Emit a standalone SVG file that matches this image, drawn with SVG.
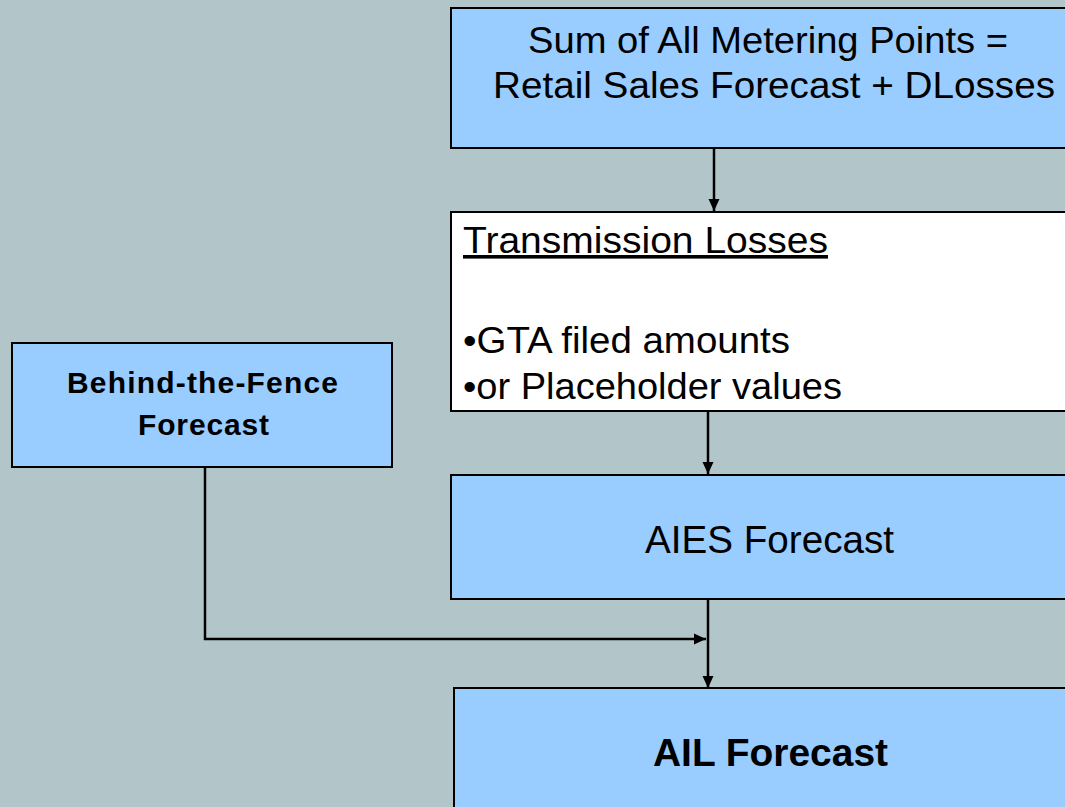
<svg xmlns="http://www.w3.org/2000/svg" width="1065" height="807" viewBox="0 0 1065 807">
  <defs>
    <marker id="arrow" viewBox="0 0 12 12" refX="12" refY="6" markerWidth="12" markerHeight="12" markerUnits="userSpaceOnUse" orient="auto">
      <path d="M0,0.5 L12,6 L0,11.5 Z" fill="#000"/>
    </marker>
    <style>
      .box { fill: #99CCFF; stroke: #000; stroke-width: 2; }
      .white { fill: #FFFFFF; stroke: #000; stroke-width: 2; }
      .t { font-family: "Liberation Sans", Arial, sans-serif; fill: #000; }
      .lg { font-size: 36px; }
      .bd { font-weight: bold; }
      .conn { fill: none; stroke: #000; stroke-width: 2.5; }
    </style>
  </defs>

  <rect width="1065" height="807" fill="#B2C6CA"/>

  <g id="node-metering">
    <rect class="box" x="451" y="8" width="630" height="140"/>
    <text class="t lg" x="528" y="53" textLength="480" lengthAdjust="spacingAndGlyphs">Sum of All Metering Points =</text>
    <text class="t lg" x="493" y="98" textLength="562" lengthAdjust="spacingAndGlyphs">Retail Sales Forecast + DLosses</text>
  </g>

  <g id="node-transmission">
    <rect class="white" x="451" y="212" width="630" height="199"/>
    <text class="t lg" x="463" y="253" textLength="365" lengthAdjust="spacingAndGlyphs" text-decoration="underline">Transmission Losses</text>
    <text class="t lg" x="463" y="353" textLength="327" lengthAdjust="spacingAndGlyphs">•GTA filed amounts</text>
    <text class="t lg" x="463" y="399" textLength="379" lengthAdjust="spacingAndGlyphs">•or Placeholder values</text>
  </g>

  <g id="node-aies">
    <rect class="box" x="451" y="475" width="630" height="124"/>
    <text class="t" font-size="38" x="645" y="553" textLength="249" lengthAdjust="spacingAndGlyphs">AIES Forecast</text>
  </g>

  <g id="node-ail">
    <rect class="box" x="454" y="688" width="630" height="140"/>
    <text class="t bd" font-size="38" x="653" y="766" textLength="235" lengthAdjust="spacingAndGlyphs">AIL Forecast</text>
  </g>

  <g id="node-btf">
    <rect class="box" x="12" y="343" width="380" height="124"/>
    <text class="t bd" font-size="30" x="67" y="393" textLength="271" lengthAdjust="spacing">Behind-the-Fence</text>
    <text class="t bd" font-size="30" x="138" y="435" textLength="131" lengthAdjust="spacing">Forecast</text>
  </g>

  <g id="connectors">
    <line class="conn" x1="714" y1="149" x2="714" y2="211" marker-end="url(#arrow)"/>
    <line class="conn" x1="708" y1="412" x2="708" y2="474" marker-end="url(#arrow)"/>
    <line class="conn" x1="708" y1="600" x2="708" y2="688" marker-end="url(#arrow)"/>
    <polyline class="conn" points="205,468 205,639 706,639" marker-end="url(#arrow)"/>
  </g>
</svg>
